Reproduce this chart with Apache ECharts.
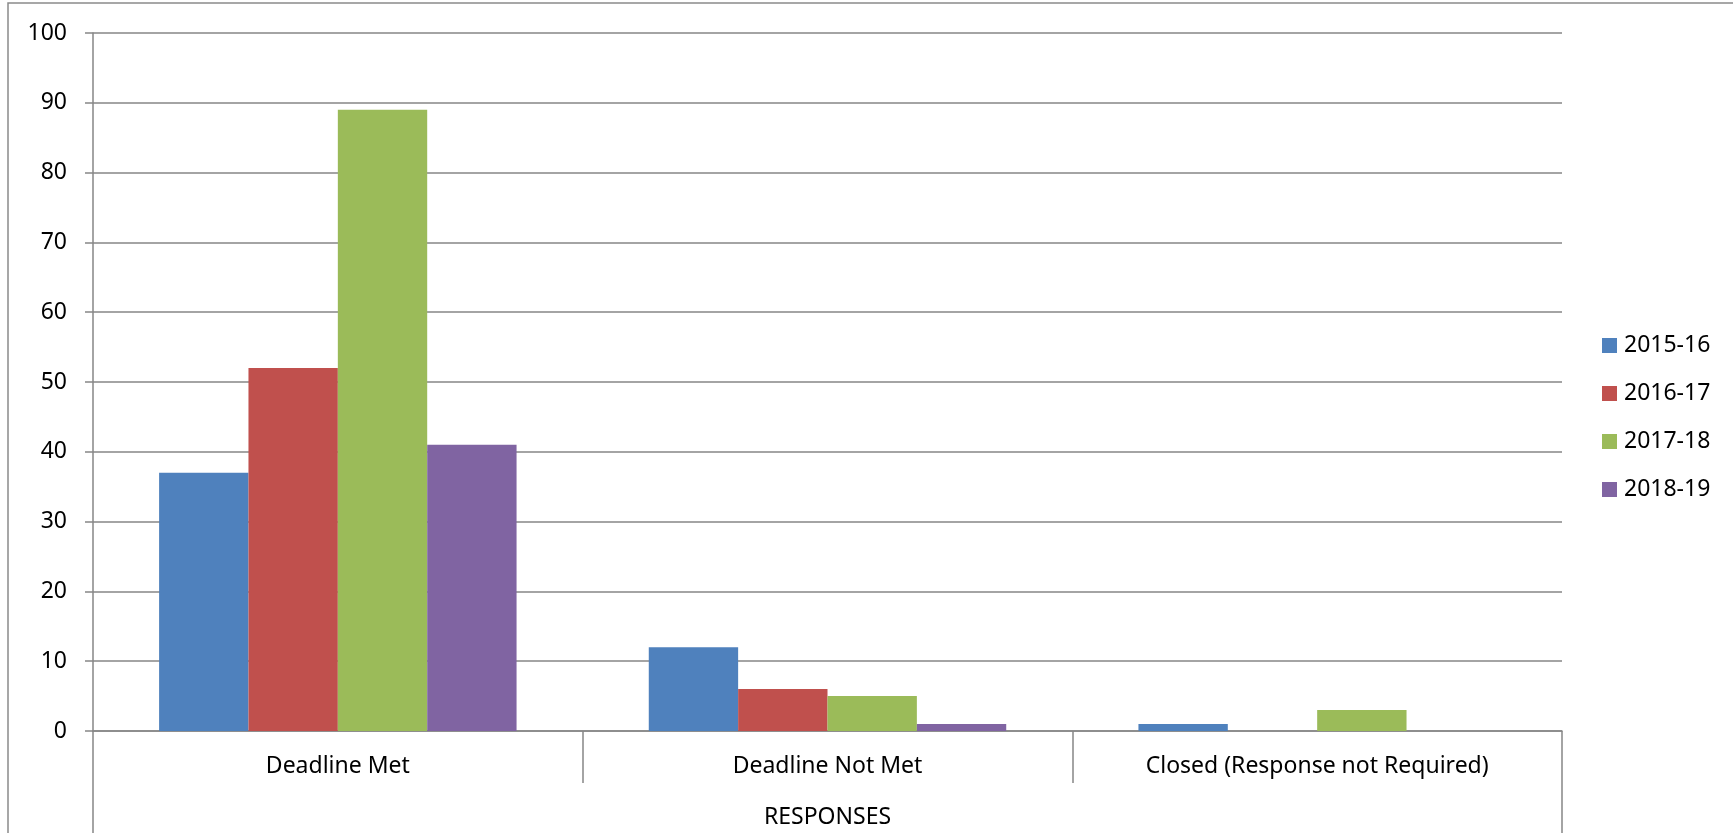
<!DOCTYPE html>
<html>
<head>
<meta charset="utf-8">
<script src="https://cdn.jsdelivr.net/npm/echarts@6/dist/echarts.min.js"></script>
<style>
  html, body { margin: 0; padding: 0; background: #fff; }
  #chart { width: 1733px; height: 833px; }
</style>
</head>
<body>
<div id="chart"></div>
<script>
const categories = ['Deadline Met', 'Deadline Not Met', 'Closed (Response not Required)'];
const seriesNames = ['2015-16', '2016-17', '2017-18', '2018-19'];
const values2015 = [37, 12, 1];
const values2016 = [52, 6, 0];
const values2017 = [89, 5, 3];
const values2018 = [41, 1, 0];
const yTicks = { min: 0, max: 100, interval: 10 };
const axisTitle = 'RESPONSES';

const colors = ['#4F81BD', '#C0504D', '#9BBB59', '#8064A2'];
const gridColor = '#868686';
const font = '"Noto Sans", sans-serif';

const chart = echarts.init(document.getElementById('chart'));

const allValues = [values2015, values2016, values2017, values2018];

chart.setOption({
    animation: false,
    textStyle: { fontFamily: font, color: '#000' },
    grid: { left: 93, right: 171, top: 33, bottom: 102 },
    legend: {
        orient: 'vertical',
        left: 1602,
        top: 334,
        padding: 0,
        itemWidth: 15,
        itemHeight: 15,
        itemGap: 25,
        icon: 'rect',
        textStyle: { fontFamily: font, fontSize: 23, color: '#000', padding: [0, 0, 0, 2] },
        data: seriesNames
    },
    graphic: [{
        type: 'rect',
        shape: { x: 8, y: 3, width: 2000, height: 2000 },
        style: { fill: 'none', stroke: '#8a8a8a', lineWidth: 1.5 },
        silent: true
    }],
    xAxis: [{
        type: 'category',
        data: categories,
        axisLine: { show: true, lineStyle: { color: gridColor, width: 1.5 } },
        axisTick: { show: true, interval: 0, length: 52, lineStyle: { color: gridColor, width: 1.5 } },
        axisLabel: { interval: 0, margin: 24, fontSize: 23, color: '#000', fontFamily: font },
        splitLine: { show: false }
    }, {
        type: 'category',
        data: [axisTitle],
        position: 'bottom',
        offset: 102,
        axisLine: { show: false },
        axisTick: { show: true, inside: true, interval: 0, length: 102, lineStyle: { color: gridColor, width: 1.5 } },
        axisLabel: { inside: true, margin: 4, fontSize: 23, color: '#000', fontFamily: font },
        splitLine: { show: false }
    }],
    yAxis: {
        type: 'value',
        min: yTicks.min,
        max: yTicks.max,
        interval: yTicks.interval,
        axisLine: { show: true, lineStyle: { color: gridColor, width: 1.5 } },
        axisTick: { show: true, length: 8, lineStyle: { color: gridColor, width: 1.5 } },
        axisLabel: { margin: 26, fontSize: 23, color: '#000', fontFamily: font },
        splitLine: { show: true, lineStyle: { color: gridColor, width: 1.5 } }
    },
    series: seriesNames.map((name, i) => ({
        name: name,
        type: 'bar',
        xAxisIndex: 0,
        barGap: '0%',
        barCategoryGap: '27%',
        itemStyle: { color: colors[i] },
        data: allValues[i]
    }))
});
</script>
</body>
</html>
